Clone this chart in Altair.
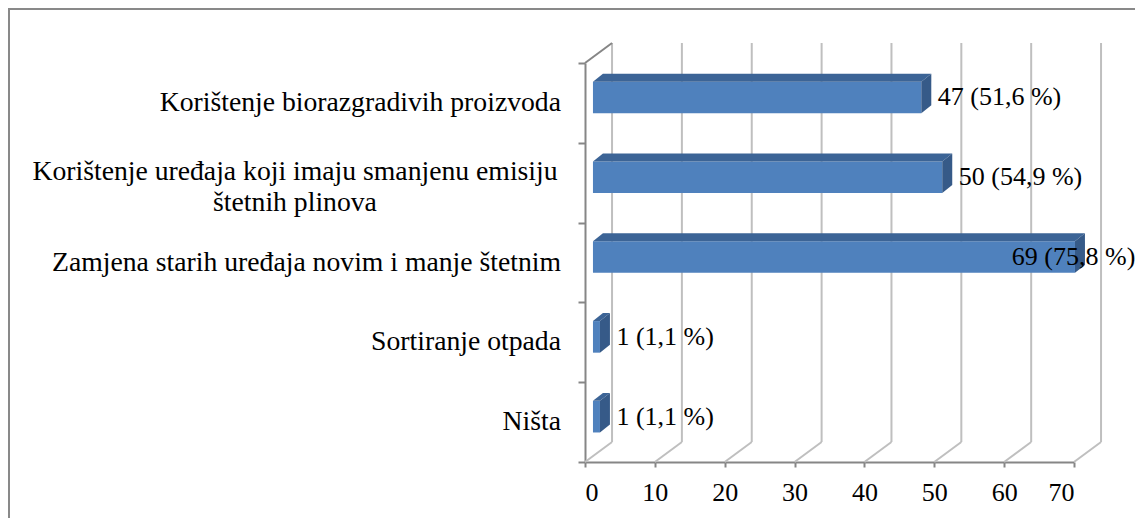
import altair as alt
import pandas as pd

# ---- data ----
categories = [
    "Korištenje biorazgradivih proizvoda",
    "Korištenje uređaja koji imaju smanjenu emisiju|štetnih plinova",
    "Zamjena starih uređaja novim i manje štetnim",
    "Sortiranje otpada",
    "Ništa ",
]
counts = [47, 50, 69, 1, 1]
percents = ["51,6", "54,9", "75,8", "1,1", "1,1"]
x_ticks = [0, 10, 20, 30, 40, 50, 60, 70]

FONT = "Liberation Serif"
CAT_SIZE = 27.7
N = len(categories)

# 3-D look (in data units)
WALL_DX, WALL_DY = 3.87, 0.25
BAR_X0, BAR_Y0, BAR_HALF = 1.14, 0.068, 0.198
BAR_DX, BAR_DY = 1.43, 0.10
LABEL_GAP, LABEL_MAX = 3.5, 61.1

front, top, side, labels, cats = [], [], [], [], []
for i, (cat, v, p) in enumerate(zip(categories, counts, percents)):
    c = N - 0.5 - i
    lo, hi = c + BAR_Y0 - BAR_HALF, c + BAR_Y0 + BAR_HALF
    front.append({"bar": i, "x": BAR_X0, "x2": v + BAR_X0, "y": lo, "y2": hi})
    top.append({"bar": i, "y": hi, "x": BAR_X0, "x2": v + BAR_X0})
    top.append({"bar": i, "y": hi + BAR_DY, "x": BAR_X0 + BAR_DX, "x2": v + BAR_X0 + BAR_DX})
    side.append({"bar": i, "x": v + BAR_X0, "y": lo, "y2": hi})
    side.append({"bar": i, "x": v + BAR_X0 + BAR_DX, "y": lo + BAR_DY, "y2": hi + BAR_DY})
    labels.append({"x": min(v + LABEL_GAP, LABEL_MAX), "y": c + BAR_Y0, "text": f"{v} ({p} %)"})
    cats.append({"x": 0, "y": c, "text": cat, "multi": "|" in cat})

light = []
for t in x_ticks:
    light.append({"x": t + WALL_DX, "x2": t + WALL_DX, "y": WALL_DY, "y2": N + WALL_DY})
    light.append({"x": t, "x2": t + WALL_DX, "y": 0, "y2": WALL_DY})
dark = [{"x": 0, "x2": WALL_DX, "y": N, "y2": N + WALL_DY}]

sx = alt.Scale(domain=[0, 70], nice=False, zero=False)
sy = alt.Scale(domain=[0, N], nice=False, zero=False)

AX_GRAY = "#868686"
x_axis = alt.Axis(
    values=x_ticks, title=None, grid=False,
    domainColor=AX_GRAY, domainWidth=2,
    tickColor=AX_GRAY, tickWidth=2, tickSize=5,
    labelFont=FONT, labelFontSize=26, labelColor="#000000", labelPadding=12,
)
y_axis = alt.Axis(
    values=list(range(N + 1)), title=None, grid=False, labels=False,
    domainColor=AX_GRAY, domainWidth=2,
    tickColor=AX_GRAY, tickWidth=2, tickSize=7,
)


def X(f="x"):
    return alt.X(f"{f}:Q", scale=sx, axis=x_axis)


def Y(f="y"):
    return alt.Y(f"{f}:Q", scale=sy, axis=y_axis)


frame = alt.Chart(pd.DataFrame({"a": [0]})).mark_rect(
    fillOpacity=0, stroke="#898989", strokeWidth=2
).encode(x=alt.value(-576), x2=alt.value(700), y=alt.value(-54), y2=alt.value(600))

light_rules = alt.Chart(pd.DataFrame(light)).mark_rule(color="#BFBFBF", strokeWidth=2).encode(
    x=X(), x2="x2:Q", y=Y(), y2="y2:Q")
dark_rules = alt.Chart(pd.DataFrame(dark)).mark_rule(color=AX_GRAY, strokeWidth=2).encode(
    x=X(), x2="x2:Q", y=Y(), y2="y2:Q")

front_faces = alt.Chart(pd.DataFrame(front)).mark_rect(color="#4F81BD").encode(
    x=X(), x2="x2:Q", y=Y(), y2="y2:Q")
top_faces = alt.Chart(pd.DataFrame(top)).mark_area(orient="horizontal", color="#3C6496").encode(
    y=Y(), x=X(), x2="x2:Q", detail="bar:N")
side_faces = alt.Chart(pd.DataFrame(side)).mark_area(orient="vertical", color="#365A88").encode(
    x=X(), y=Y(), y2="y2:Q", detail="bar:N")

bar_labels = alt.Chart(pd.DataFrame(labels)).mark_text(
    align="left", baseline="middle", font=FONT, fontSize=26, color="#000000"
).encode(x=X(), y=Y(), text="text:N")

cat_df = pd.DataFrame(cats)
cat_single = alt.Chart(cat_df).transform_filter("!datum.multi").mark_text(
    align="right", baseline="middle", font=FONT, fontSize=CAT_SIZE, color="#000000", dx=-24
).encode(x=X(), y=Y(), text="text:N")
cat_multi = alt.Chart(cat_df).transform_filter("datum.multi").mark_text(
    align="center", baseline="middle", font=FONT, fontSize=CAT_SIZE, color="#000000",
    dx=-290, dy=-11, lineBreak="|", lineHeight=31
).encode(x=X(), y=Y(), text="text:N")

chart = alt.layer(
    frame, light_rules, dark_rules, front_faces, top_faces, side_faces,
    bar_labels, cat_single, cat_multi
).properties(
    width=489, height=399,
    autosize=alt.AutoSizeParams(type="none"),
    padding={"left": 577, "top": 55, "right": 61, "bottom": 56},
).configure_view(strokeWidth=0).configure_axis(labelFont=FONT, labelFontSize=26)

chart.save("out.html", embed_options={"renderer": "svg", "actions": False})
